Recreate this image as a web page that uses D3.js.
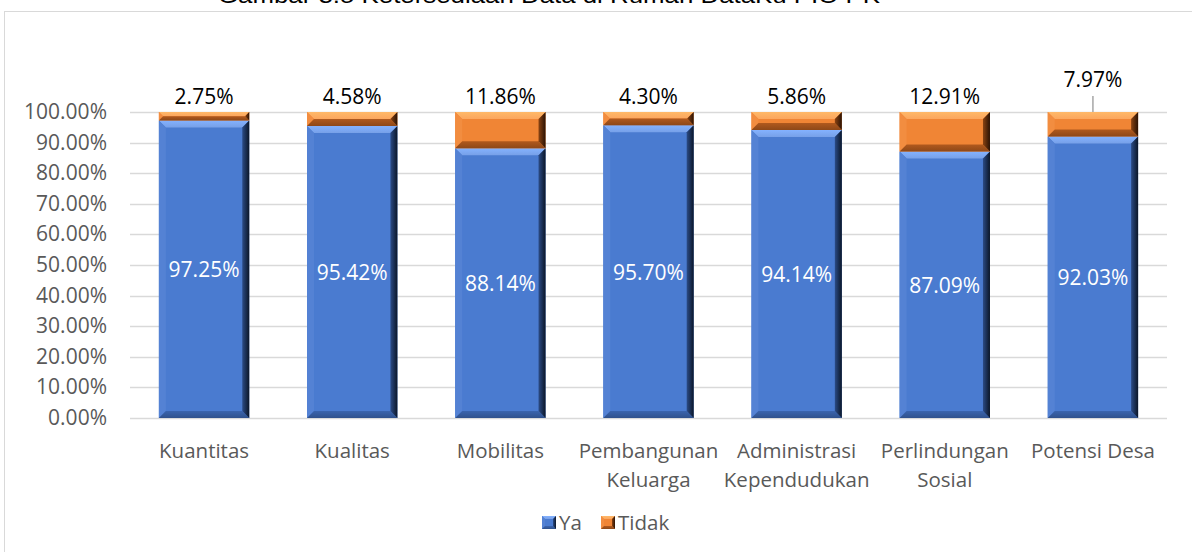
<!DOCTYPE html>
<html lang="en">
<head>
    <meta charset="UTF-8">
    <title>Ketersediaan Data</title>
    <script src="https://d3js.org/d3.v7.min.js"></script>
    <style>
        body { margin: 0; background: #fff; }
        text { font-family: "Open Sans", "Noto Sans", sans-serif; }
    </style>
</head>
<body>
    <div id="chart"></div>
    <script>
        // data
        const categories = [["Kuantitas"], ["Kualitas"], ["Mobilitas"], ["Pembangunan", "Keluarga"],
            ["Administrasi", "Kependudukan"], ["Perlindungan", "Sosial"], ["Potensi Desa"]];
        const ya = [97.25, 95.42, 88.14, 95.70, 94.14, 87.09, 92.03];
        const tidak = [2.75, 4.58, 11.86, 4.30, 5.86, 12.91, 7.97];
        const yTicks = [0, 10, 20, 30, 40, 50, 60, 70, 80, 90, 100];
        const seriesNames = ["Ya", "Tidak"];

        const width = 1192, height = 552;
        const svg = d3.select("#chart").append("svg")
            .attr("width", width).attr("height", height);

        // chart frame
        svg.append("rect")
            .attr("x", 4.5).attr("y", 11.5)
            .attr("width", 1200).attr("height", 560)
            .attr("fill", "white").attr("stroke", "#d9d9d9");

        // caption, cut off by the top edge as in the source
        svg.append("text")
            .attr("x", 218).attr("y", 3)
            .style("font-family", "'Liberation Sans', Arial, sans-serif")
            .attr("font-size", 22)
            .attr("textLength", 662)
            .attr("lengthAdjust", "spacingAndGlyphs")
            .text("Gambar 3.5 Ketersediaan Data di Rumah DataKu PIO PK");

        const x = d3.scaleBand()
            .domain(d3.range(categories.length))
            .range([130, 1167])
            .paddingInner(0.39)
            .paddingOuter(0.195);

        const y = d3.scaleLinear()
            .domain([0, 100])
            .range([418, 112]);

        // gridlines
        svg.append("g")
            .selectAll("line")
            .data(yTicks)
            .join("line")
            .attr("x1", 130).attr("x2", 1167)
            .attr("y1", d => Math.round(y(d)) + 0.5)
            .attr("y2", d => Math.round(y(d)) + 0.5)
            .attr("stroke", "#d9d9d9")
            .attr("stroke-width", 1.5);

        // y axis labels
        svg.append("g")
            .selectAll("text")
            .data(yTicks)
            .join("text")
            .attr("x", 107)
            .attr("y", d => y(d) + 7)
            .attr("text-anchor", "end")
            .attr("font-size", 21)
            .attr("fill", "#595959")
            .text(d => d.toFixed(2) + "%");

        // palettes for bevelled bars
        const pal = {
            blue: { main: "#4a7bd0", top: "#77a0e8", left: "#5482d4", bottom: "#3a64ae", r1: "#2b4b86", r2: "#0b1628" },
            orange: { main: "#f08535", top: "#fba65e", left: "#f28d40", bottom: "#b0591e", r1: "#8a4312", r2: "#2a1204" }
        };

        const defs = svg.append("defs");
        Object.entries(pal).forEach(([k, p]) => {
            const g = defs.append("linearGradient").attr("id", "right-" + k)
                .attr("x1", 0).attr("x2", 1).attr("y1", 0).attr("y2", 0);
            g.append("stop").attr("offset", "0%").attr("stop-color", p.r1);
            g.append("stop").attr("offset", "100%").attr("stop-color", p.r2);
            const t = defs.append("linearGradient").attr("id", "top-" + k)
                .attr("x1", 0).attr("x2", 0).attr("y1", 0).attr("y2", 1);
            t.append("stop").attr("offset", "0%").attr("stop-color", d3.color(p.top).brighter(0.3));
            t.append("stop").attr("offset", "100%").attr("stop-color", p.top);
            const b = defs.append("linearGradient").attr("id", "bot-" + k)
                .attr("x1", 0).attr("x2", 0).attr("y1", 0).attr("y2", 1);
            b.append("stop").attr("offset", "0%").attr("stop-color", p.bottom);
            b.append("stop").attr("offset", "100%").attr("stop-color", d3.color(p.bottom).darker(0.6));
        });

        function bevelBar(g, x0, y0, w, h, key, size) {
            const p = pal[key];
            const b = Math.min(size, h / 2, w / 2);
            g.append("rect").attr("x", x0).attr("y", y0).attr("width", w).attr("height", h).attr("fill", p.main);
            const pts = a => a.map(q => q.join(",")).join(" ");
            g.append("polygon").attr("fill", `url(#top-${key})`)
                .attr("points", pts([[x0, y0], [x0 + w, y0], [x0 + w - b, y0 + b], [x0 + b, y0 + b]]));
            g.append("polygon").attr("fill", p.left)
                .attr("points", pts([[x0, y0], [x0 + b, y0 + b], [x0 + b, y0 + h - b], [x0, y0 + h]]));
            g.append("polygon").attr("fill", `url(#bot-${key})`)
                .attr("points", pts([[x0, y0 + h], [x0 + w, y0 + h], [x0 + w - b, y0 + h - b], [x0 + b, y0 + h - b]]));
            g.append("polygon").attr("fill", `url(#right-${key})`)
                .attr("points", pts([[x0 + w, y0], [x0 + w - b, y0 + b], [x0 + w - b, y0 + h - b], [x0 + w, y0 + h]]));
        }

        const bars = svg.append("g");
        ya.forEach((v, i) => {
            const x0 = x(i), w = x.bandwidth();
            bevelBar(bars, x0, y(v), w, y(0) - y(v), "blue", 7);
            bevelBar(bars, x0, y(100), w, y(v) - y(100), "orange", 7);
        });

        // value labels inside (Ya)
        svg.append("g")
            .selectAll("text")
            .data(ya)
            .join("text")
            .attr("x", (d, i) => x(i) + x.bandwidth() / 2)
            .attr("y", d => (y(0) + y(d)) / 2 + 8)
            .attr("text-anchor", "middle")
            .attr("font-size", 21)
            .attr("fill", "white")
            .text(d => d.toFixed(2) + "%");

        // value labels above (Tidak)
        const lifted = [false, false, false, false, false, false, true];
        svg.append("g")
            .selectAll("text")
            .data(tidak)
            .join("text")
            .attr("x", (d, i) => x(i) + x.bandwidth() / 2)
            .attr("y", (d, i) => (lifted[i] ? 87 : 104))
            .attr("text-anchor", "middle")
            .attr("font-size", 21)
            .attr("fill", "black")
            .text(d => d.toFixed(2) + "%");

        // leader line
        tidak.forEach((d, i) => {
            if (!lifted[i]) return;
            const cx = x(i) + x.bandwidth() / 2;
            svg.append("line")
                .attr("x1", cx).attr("x2", cx)
                .attr("y1", 96).attr("y2", y(100))
                .attr("stroke", "#a6a6a6").attr("stroke-width", 1.5);
        });

        // x labels
        const xl = svg.append("g");
        categories.forEach((lines, i) => {
            const t = xl.append("text")
                .attr("x", x(i) + x.bandwidth() / 2)
                .attr("y", 458)
                .attr("text-anchor", "middle")
                .attr("font-size", 20.5)
                .attr("fill", "#595959");
            lines.forEach((s, j) => {
                t.append("tspan").attr("x", x(i) + x.bandwidth() / 2)
                    .attr("dy", j === 0 ? 0 : 29).text(s);
            });
        });

        // legend
        const legX = [542, 601];
        const lg = svg.append("g");
        seriesNames.forEach((name, i) => {
            const key = i === 0 ? "blue" : "orange";
            bevelBar(lg, legX[i], 516, 14, 13, key, 3);
            lg.append("text")
                .attr("x", legX[i] + 17)
                .attr("y", 530)
                .attr("font-size", 20.5)
                .attr("fill", "#595959")
                .text(name);
        });
    </script>
</body>
</html>
